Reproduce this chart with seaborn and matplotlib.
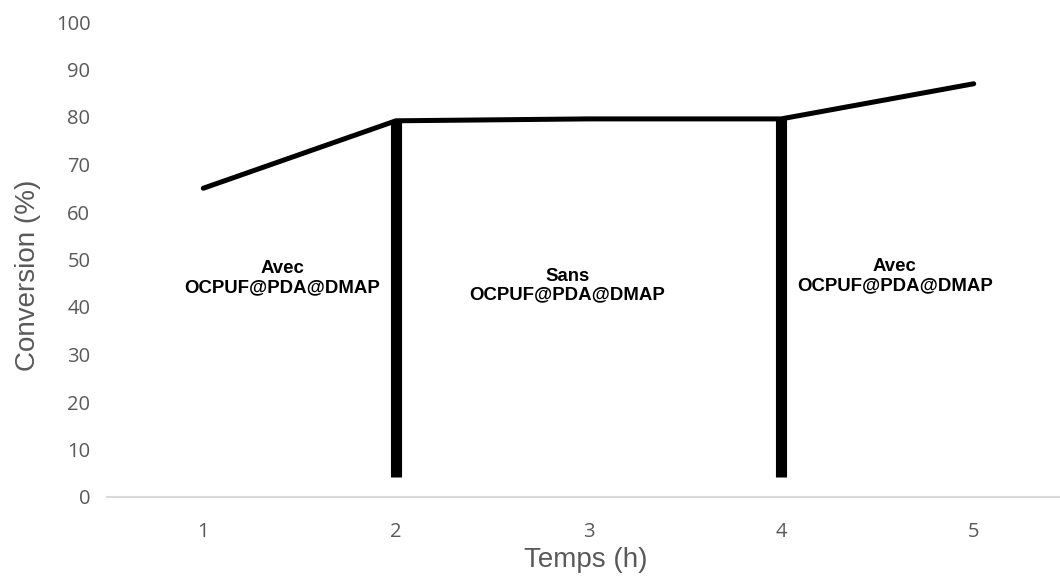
import matplotlib
matplotlib.use("Agg")
import matplotlib.pyplot as plt
import seaborn as sns
import pandas as pd

# Data
hours = [1, 2, 3, 4, 5]
conversion = [65, 79.2, 79.6, 79.6, 87]
divider_x = [2, 4]
divider_bottom = [4.2, 4.2]
divider_top = [79.2, 79.6]
y_ticks = [0, 10, 20, 30, 40, 50, 60, 70, 80, 90, 100]
annot_texts = ["Avec\nOCPUF@PDA@DMAP", "Sans\nOCPUF@PDA@DMAP", "Avec\nOCPUF@PDA@DMAP"]
annot_x = [1.41, 2.89, 4.59]
annot_y = [46.0, 44.5, 46.5]

sns.set_theme(style="white")
plt.rcParams['font.family'] = ['Liberation Sans', 'DejaVu Sans']

fig = plt.figure(figsize=(10.6, 5.81), dpi=100)
ax = fig.add_axes([107/1060, 84/581, 963/1060, 475/581])

df = pd.DataFrame({"Temps": hours, "Conversion": conversion})
sns.lineplot(data=df, x="Temps", y="Conversion", ax=ax, color="black",
             linewidth=3.6, solid_capstyle="round", solid_joinstyle="round")

ax.vlines(divider_x, divider_bottom, divider_top, colors="black", linewidth=8)

for t, x, y in zip(annot_texts, annot_x, annot_y):
    ax.text(x, y, t, ha="center", va="center", fontsize=13.4, fontweight="bold",
            color="black", linespacing=1.17, family=['Liberation Sans', 'DejaVu Sans'])

ax.set_xlim(0.5, 5.5)
ax.set_ylim(0, 100)
ax.set_xticks(hours)
ax.set_xticklabels([str(h) for h in hours])
ax.set_yticks(y_ticks)
ax.set_yticklabels([str(v) for v in y_ticks])

for lab in ax.get_xticklabels() + ax.get_yticklabels():
    lab.set_family(['Open Sans', 'DejaVu Sans'])
    lab.set_fontsize(14.5)
    lab.set_color("#595959")
ax.tick_params(axis="y", length=0, pad=12)
ax.tick_params(axis="x", length=0, pad=18)

for s in ["top", "right", "left"]:
    ax.spines[s].set_visible(False)
ax.spines["bottom"].set_color("#d9d9d9")
ax.spines["bottom"].set_linewidth(1.5)
ax.grid(False)

ax.set_xlabel("Temps (h)", fontsize=20, color="#595959")
ax.set_ylabel("Conversion (%)", fontsize=20, color="#595959")
ax.xaxis.set_label_coords(0.497, -0.133)
ax.xaxis.label.set_va("center")
ax.yaxis.set_label_coords(-0.082, 0.467)
ax.yaxis.label.set_va("center")

fig.savefig("out.png", dpi=100)
